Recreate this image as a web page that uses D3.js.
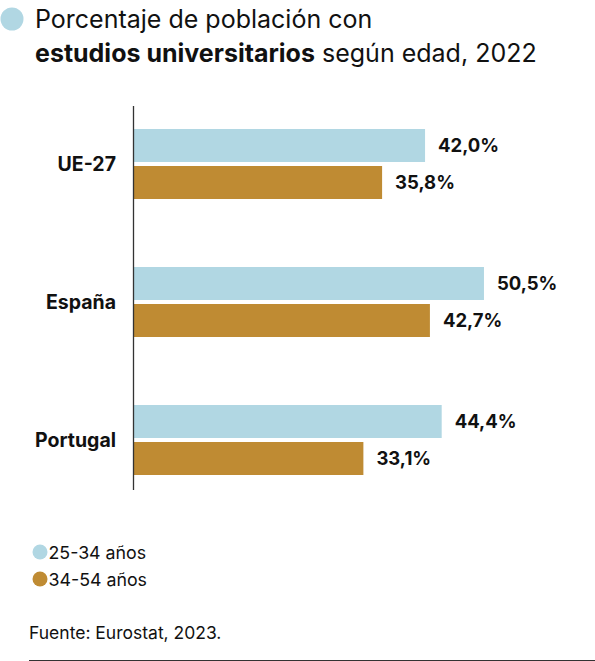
<!DOCTYPE html>
<html>
<head>
<meta charset="utf-8">
<script src="https://cdn.jsdelivr.net/npm/d3@7"></script>
<style>
  body { margin: 0; background: #fff; }
  svg text { font-family: Inter, "Noto Sans", sans-serif; fill: #111; }
</style>
</head>
<body>
<svg id="chart" width="595" height="661"></svg>
<script>
// Datos
const categories = ['UE-27', 'España', 'Portugal'];
const seriesNames = ['25-34 años', '34-54 años'];
const young = [42.0, 50.5, 44.4];
const older = [35.8, 42.7, 33.1];
const colors = ['#b1d7e3', '#bf8b33'];

const svg = d3.select('#chart');

const render = () => {
    // Settaggi generali
    const margin = {top: 106, left: 134};
    const innerHeight = 384;
    const groupStep = 138;
    const barH = 33;
    const barGap = 4;

    const data = categories.map((c, i) => ({cat: c, values: [young[i], older[i]]}));

    const xScale = d3.scaleLinear()
        .domain([0, 10])
        .range([0, 69.3]);

    const yScale = d3.scaleBand()
        .domain(categories)
        .range([0, groupStep * categories.length]);

    // Titolo
    svg.append('circle')
        .attr('cx', 12).attr('cy', 19).attr('r', 11.5)
        .attr('fill', colors[0]);

    const title = svg.append('text')
        .attr('font-size', 25);
    title.append('tspan').attr('x', 35).attr('y', 28)
        .text('Porcentaje de población con');
    const l2 = title.append('tspan').attr('x', 35).attr('y', 62);
    l2.append('tspan').attr('font-weight', 700).text('estudios universitarios');
    l2.append('tspan').text(' según edad, 2022');

    const g = svg.append('g')
        .attr('transform', `translate(${margin.left}, ${margin.top})`);

    const groups = g.selectAll('.grp')
        .data(data)
        .enter().append('g')
        .attr('class', 'grp')
        .attr('transform', d => `translate(0, ${yScale(d.cat) + 23})`);

    groups.selectAll('rect')
        .data(d => d.values.map((v, j) => ({v, j})))
        .enter().append('rect')
        .attr('x', 0)
        .attr('y', d => d.j * (barH + barGap))
        .attr('width', d => xScale(d.v))
        .attr('height', barH)
        .attr('fill', d => colors[d.j]);

    groups.selectAll('.val')
        .data(d => d.values.map((v, j) => ({v, j})))
        .enter().append('text')
        .attr('class', 'val')
        .attr('x', d => xScale(d.v) + 13)
        .attr('y', d => d.j * (barH + barGap) + barH / 2 + 6.5)
        .attr('font-size', 18.5)
        .attr('font-weight', 700)
        .text(d => d3.format('.1f')(d.v).replace('.', ',') + '%');

    groups.append('text')
        .attr('x', -18)
        .attr('y', barH + barGap / 2 + 6.5)
        .attr('text-anchor', 'end')
        .attr('font-size', 19.5)
        .attr('font-weight', 700)
        .text(d => d.cat);

    // Asse y
    const yAxis = d3.axisLeft(yScale).tickSize(0).tickFormat('');
    const yAxisG = g.append('g').call(yAxis);
    yAxisG.select('.domain')
        .attr('d', `M-0.5,0V${innerHeight}`)
        .attr('stroke', '#333')
        .attr('stroke-width', 1.3);

    // Legenda
    const legend = svg.append('g')
        .attr('transform', 'translate(40, 552)');
    const li = legend.selectAll('g')
        .data(seriesNames)
        .enter().append('g')
        .attr('transform', (d, i) => `translate(0, ${i * 27})`);
    li.append('circle').attr('r', 7.5).attr('fill', (d, i) => colors[i]);
    li.append('text')
        .attr('x', 8.5).attr('y', 6.5)
        .attr('font-size', 17.8)
        .text(d => d);

    // Fonte
    svg.append('text')
        .attr('x', 29).attr('y', 639)
        .attr('font-size', 17.5)
        .text('Fuente: Eurostat, 2023.');

    svg.append('line')
        .attr('x1', 29).attr('x2', 595)
        .attr('y1', 660.5).attr('y2', 660.5)
        .attr('stroke', '#333').attr('stroke-width', 1.2);
};

render();
</script>
</body>
</html>
